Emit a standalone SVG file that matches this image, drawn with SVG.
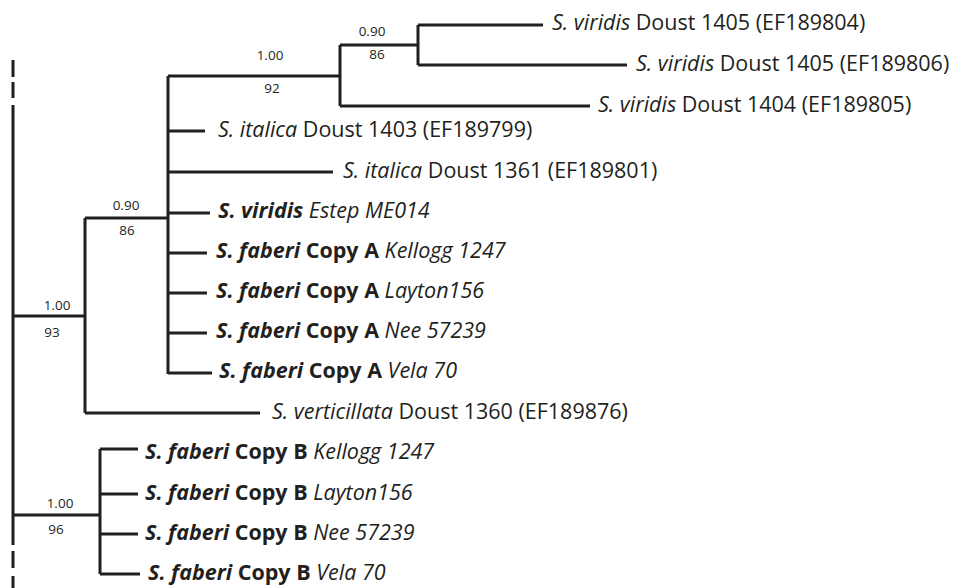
<svg xmlns="http://www.w3.org/2000/svg" width="958" height="588" viewBox="0 0 958 588">
<style>
.br{stroke:#231f20;stroke-width:3;fill:none;stroke-linecap:butt}
.lf{font-family:"Open Sans","Noto Sans",sans-serif;font-size:21.5px;fill:#231f20}
.sp{font-family:"Open Sans","Noto Sans",sans-serif;font-size:13.5px;fill:#231f20;text-anchor:middle}
.i{font-style:italic}
.b{font-weight:bold}
.bi{font-weight:bold;font-style:italic}
</style>
<rect width="958" height="588" fill="#ffffff"/>
<g id="connectors">
<path class="br" d="M13,60V77M13,82V98M13,105V545M13,551V568M13,576V588"/>
<path class="br" d="M13,316H85M85,218V413M85,413H260M85,218H168M168,76V374"/>
<path class="br" d="M168,76H340M340,45V106M340,106H590M340,45H418M418,25V65M418,25H543M418,65H627"/>
<path class="br" d="M168,131H205M168,172H333M168,213H210M168,253H207M168,293H207M168,333H207M168,373H212"/>
<path class="br" d="M13,515H100M100,449V574M100,449H138M100,494H138M100,534H138M100,574H140"/>
</g>
<g id="support">
<text class="sp" x="372" y="36">0.90</text><text class="sp" x="377" y="59">86</text>
<text class="sp" x="270" y="60">1.00</text><text class="sp" x="272" y="93">92</text>
<text class="sp" x="126" y="210">0.90</text><text class="sp" x="127" y="235">86</text>
<text class="sp" x="57" y="310">1.00</text><text class="sp" x="52" y="337">93</text>
<text class="sp" x="60" y="508">1.00</text><text class="sp" x="56" y="534">96</text>
</g>
<g id="leaf-viridis-1405a"><text class="lf" x="552" y="30"><tspan class="i">S. viridis</tspan> Doust 1405 (EF189804)</text></g>
<g id="leaf-viridis-1405b"><text class="lf" x="636" y="71"><tspan class="i">S. viridis</tspan> Doust 1405 (EF189806)</text></g>
<g id="leaf-viridis-1404"><text class="lf" x="598" y="112"><tspan class="i">S. viridis</tspan> Doust 1404 (EF189805)</text></g>
<g id="leaf-italica-1403"><text class="lf" x="218" y="137"><tspan class="i">S. italica</tspan> Doust 1403 (EF189799)</text></g>
<g id="leaf-italica-1361"><text class="lf" x="343" y="178"><tspan class="i">S. italica</tspan> Doust 1361 (EF189801)</text></g>
<g id="leaf-viridis-estep"><text class="lf" x="218" y="218"><tspan class="bi">S. viridis</tspan> <tspan class="i">Estep ME014</tspan></text></g>
<g id="leaf-faberiA-kellogg"><text class="lf" x="216" y="258"><tspan class="bi">S. faberi</tspan> <tspan class="b">Copy A</tspan> <tspan class="i">Kellogg 1247</tspan></text></g>
<g id="leaf-faberiA-layton"><text class="lf" x="216" y="298"><tspan class="bi">S. faberi</tspan> <tspan class="b">Copy A</tspan> <tspan class="i">Layton156</tspan></text></g>
<g id="leaf-faberiA-nee"><text class="lf" x="216" y="338"><tspan class="bi">S. faberi</tspan> <tspan class="b">Copy A</tspan> <tspan class="i">Nee 57239</tspan></text></g>
<g id="leaf-faberiA-vela"><text class="lf" x="219" y="378"><tspan class="bi">S. faberi</tspan> <tspan class="b">Copy A</tspan> <tspan class="i">Vela 70</tspan></text></g>
<g id="leaf-verticillata"><text class="lf" x="272" y="419"><tspan class="i">S. verticillata</tspan> Doust 1360 (EF189876)</text></g>
<g id="leaf-faberiB-kellogg"><text class="lf" x="145" y="459"><tspan class="bi">S. faberi</tspan> <tspan class="b">Copy B</tspan> <tspan class="i">Kellogg 1247</tspan></text></g>
<g id="leaf-faberiB-layton"><text class="lf" x="145" y="500"><tspan class="bi">S. faberi</tspan> <tspan class="b">Copy B</tspan> <tspan class="i">Layton156</tspan></text></g>
<g id="leaf-faberiB-nee"><text class="lf" x="145" y="540"><tspan class="bi">S. faberi</tspan> <tspan class="b">Copy B</tspan> <tspan class="i">Nee 57239</tspan></text></g>
<g id="leaf-faberiB-vela"><text class="lf" x="148" y="580"><tspan class="bi">S. faberi</tspan> <tspan class="b">Copy B</tspan> <tspan class="i">Vela 70</tspan></text></g>
</svg>
